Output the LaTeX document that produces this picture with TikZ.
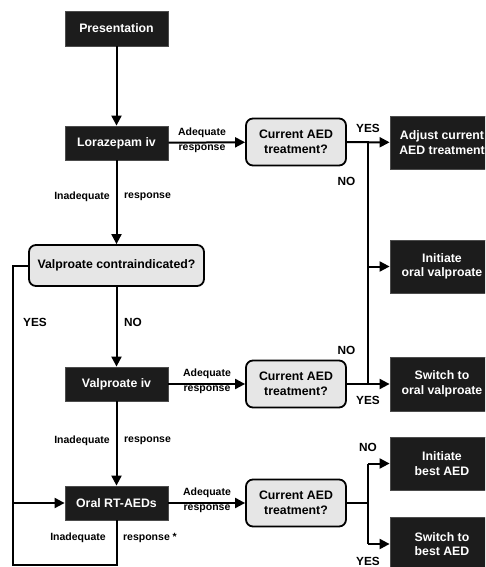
\documentclass[tikz,border=0pt]{standalone}
\usepackage{fontspec}
\setmainfont{Liberation Sans}
\usetikzlibrary{arrows.meta}
\definecolor{boxdark}{HTML}{1C1C1C}
\definecolor{boxlight}{HTML}{E6E6E6}
\begin{document}
\begin{tikzpicture}[x=1pt,y=-1pt,
  darkbox/.style={fill=boxdark,draw=black!70,line width=0.8pt,text=white,font=\fontsize{12.3}{14.5}\selectfont\bfseries,align=center,inner sep=0pt},
  decbox/.style={fill=boxlight,draw=black,line width=1.8pt,rounded corners=7pt,font=\fontsize{12.3}{14.5}\selectfont\bfseries,align=center,inner sep=0pt},
  lbl/.style={font=\fontsize{10.5}{15}\selectfont\bfseries,inner sep=0pt},
  yn/.style={font=\fontsize{11.8}{14}\selectfont\bfseries,inner sep=0pt},
  conn/.style={line width=2pt},
  arr/.style={line width=2pt,-{Triangle[length=10pt,width=10pt]}}]
\useasboundingbox (0,0) rectangle (485,567);
\clip (0,0) rectangle (485,567);
% left column
\node[darkbox,minimum width=103pt,minimum height=35pt] (pres) at (116.5,28.5) {Presentation};
\node[darkbox,minimum width=103pt,minimum height=34pt] (lor) at (116.5,143) {Lorazepam iv};
\node[decbox,minimum width=175pt,minimum height=41pt] (vc) at (116.5,265.5) {Valproate contraindicated?};
\node[darkbox,minimum width=103pt,minimum height=34pt] (vpiv) at (116.5,384) {Valproate iv};
\node[darkbox,minimum width=103pt,minimum height=34pt] (ort) at (116.5,503) {Oral RT-AEDs};
% decisions
\node[decbox,minimum width=100pt,minimum height=47pt] (cur1) at (296,142) {Current AED\\treatment?};
\node[decbox,minimum width=100pt,minimum height=47pt] (cur2) at (296,384) {Current AED\\treatment?};
\node[decbox,minimum width=100pt,minimum height=47pt] (cur3) at (296,503) {Current AED\\treatment?};
% right column
\node[darkbox,minimum width=104pt,minimum height=53pt] (adj) at (442,142.5) {Adjust current\\AED treatment};
\node[darkbox,minimum width=104pt,minimum height=53pt] (iov) at (442,266.5) {Initiate\\oral valproate};
\node[darkbox,minimum width=104pt,minimum height=54pt] (sov) at (442,384) {Switch to\\oral valproate};
\node[darkbox,minimum width=104pt,minimum height=53pt] (iba) at (442,463.5) {Initiate\\best AED};
\node[darkbox,minimum width=104pt,minimum height=53pt] (sba) at (442,544) {Switch to\\best AED};
% helper coordinates
\coordinate (t1) at (368,142);
\coordinate (t2) at (368,266.5);
\coordinate (t3) at (368,384);
\coordinate (b1) at (368,463.5);
\coordinate (b2) at (368,503);
\coordinate (b3) at (368,544);
\coordinate (l1) at (13,265.5);
\coordinate (l2) at (13,503);
\coordinate (l3) at (13,565);
\coordinate (l4) at (116.5,565);
% connectors
\draw[arr] (pres) -- (lor);
\draw[arr] (lor) -- (vc);
\draw[arr] (vc) -- (vpiv);
\draw[arr] (vpiv) -- (ort);
\draw[arr] (lor) -- (cur1);
\draw[arr] (vpiv) -- (cur2);
\draw[arr] (ort) -- (cur3);
\draw[arr] (cur1) -- (adj);
\draw[arr] (cur2) -- (sov);
\draw[conn] (t1) -- (t3);
\draw[arr] (t2) -- (iov);
\draw[conn] (cur3) -- (b2);
\draw[conn] (b1) -- (b3);
\draw[arr] (b1) -- (iba);
\draw[arr] (b3) -- (sba);
\draw[conn] (vc.west) -- (l1) -- (l3) -- (l4) -- (ort.south);
\draw[arr] (l2) -- (ort.west);
% edge labels
\node[lbl] (a1) at (202,133) {Adequate};
\node[lbl] (r1) at (202,148.5) {response};
\node[lbl] (a2) at (207,374) {Adequate};
\node[lbl] (r2) at (207,390) {response};
\node[lbl] (a3) at (207,493) {Adequate};
\node[lbl] (r3) at (207,509) {response};
\node[lbl] (i1) at (82,197) {Inadequate};
\node[lbl] (s1) at (147.5,197) {response};
\node[lbl] (i2) at (82,441) {Inadequate};
\node[lbl] (s2) at (147.5,441) {response};
\node[lbl] (i3) at (78,538) {Inadequate};
\node[lbl] (s3) at (150,538) {response *};
% yes / no
\node[yn] (y1) at (368,128) {YES};
\node[yn] (n1) at (346.5,181) {NO};
\node[yn] (y2) at (35,322.5) {YES};
\node[yn] (n2) at (133,322.5) {NO};
\node[yn] (n3) at (346.5,350) {NO};
\node[yn] (y3) at (368,400) {YES};
\node[yn] (n4) at (368,447) {NO};
\node[yn] (y4) at (368,561) {YES};
\end{tikzpicture}
\end{document}
